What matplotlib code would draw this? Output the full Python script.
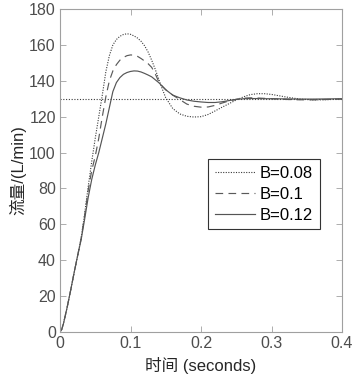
import matplotlib
matplotlib.use("Agg")
import matplotlib.pyplot as plt

plt.rcParams['font.family'] = ['Liberation Sans', 'Noto Sans CJK SC']

# time (s)
t = [0, 0.0025, 0.005, 0.01, 0.015, 0.02, 0.025, 0.03,
     0.035, 0.04, 0.045, 0.05, 0.055, 0.06, 0.065, 0.07, 0.075, 0.08,
     0.085, 0.09, 0.095, 0.1, 0.105, 0.11, 0.115, 0.12, 0.125, 0.13,
     0.135, 0.14, 0.145, 0.15,
     0.16, 0.17, 0.18, 0.19, 0.2, 0.21, 0.22, 0.23, 0.24, 0.25, 0.26,
     0.27, 0.28, 0.29, 0.3,
     0.32, 0.34, 0.36, 0.38, 0.4]

# flow (L/min)
flow_b008 = [0, 1.5, 4.8, 13.5, 23, 33, 42.5, 52.5,
             66, 81, 95, 108, 120, 132, 145, 154, 160, 163,
             164.8, 165.8, 166.2, 165.9, 165, 163.8, 162, 159.5, 156, 151.5,
             146.5, 141, 135.5, 130.5,
             124.5, 121.5, 120.2, 119.8, 120, 121.2, 123.2, 125.3, 127.3, 129.3, 131,
             132.3, 132.8, 132.8, 132.4,
             131, 129.8, 129.3, 129.5, 129.9]
flow_b010 = [0, 1.5, 4.8, 13.5, 23, 33, 42.5, 52,
             65, 79, 90, 98, 108, 120, 131, 140, 145.5, 149,
             151.5, 153, 154, 154.4, 154.3, 153.6, 152.4, 151, 149.5, 147.5,
             144, 139.5, 137, 135,
             132, 129.5, 127, 125.8, 125.3, 125.4, 126.3, 127.6, 128.8, 129.7, 130.3,
             130.5, 130.4, 130.2, 130,
             129.6, 129.4, 129.4, 129.6, 129.8]
flow_b012 = [0, 1.5, 4.8, 13.5, 23, 33, 42.5, 51.5,
             63, 75, 85, 93, 100, 108, 116, 125, 134, 139,
             141.8, 143.6, 144.6, 145.2, 145.5, 145.4, 144.9, 144.1, 143.2, 142.2,
             140.6, 139, 137, 135,
             132, 130.5, 129.3, 128.6, 128.2, 127.9, 127.9, 128.3, 129, 129.6, 130,
             130.1, 130.1, 130, 130,
             129.9, 129.8, 129.8, 129.9, 130]
setpoint = 130

fig = plt.figure(figsize=(3.54, 3.81), dpi=100)
ax = fig.add_axes([60/354, 49/381, 282/354, 323/381])

ax.axhline(setpoint, color='#3a3a3a', linestyle=(0, (1, 1.5)), linewidth=0.8)
ax.plot(t, flow_b008, color='#3a3a3a', linestyle=(0, (1, 1.3)), linewidth=0.8, label='B=0.08')
ax.plot(t, flow_b010, color='#5a5a5a', linestyle=(0, (6.5, 4.5)), linewidth=0.85, label='B=0.1')
ax.plot(t, flow_b012, color='#555555', linestyle='-', linewidth=0.85, label='B=0.12')

ax.set_xlim(0, 0.4)
ax.set_ylim(0, 180)
ax.set_xticks([0, 0.1, 0.2, 0.3, 0.4])
ax.set_xticklabels(['0', '0.1', '0.2', '0.3', '0.4'])
ax.set_yticks(range(0, 181, 20))
ax.tick_params(direction='in', length=4, width=0.6, colors='#a0a0a0',
               labelcolor='#4d4d4d', labelsize=11.5, top=True, right=True, pad=3)
for s in ax.spines.values():
    s.set_color('#a0a0a0')
    s.set_linewidth(0.8)

ax.set_xlabel('时间 (seconds)', fontsize=12, color='#262626', labelpad=4)
ax.set_ylabel('流量/(L/min)', fontsize=12, color='#262626', labelpad=2)

leg = ax.legend(loc='upper left', bbox_to_anchor=(0.525, 0.535), fontsize=12,
                handlelength=2.4, handletextpad=0.3, borderpad=0.4,
                labelspacing=0.35, fancybox=False, framealpha=1,
                edgecolor='#333333', borderaxespad=0)
leg.get_frame().set_linewidth(0.8)

fig.savefig('out.png', dpi=100)
